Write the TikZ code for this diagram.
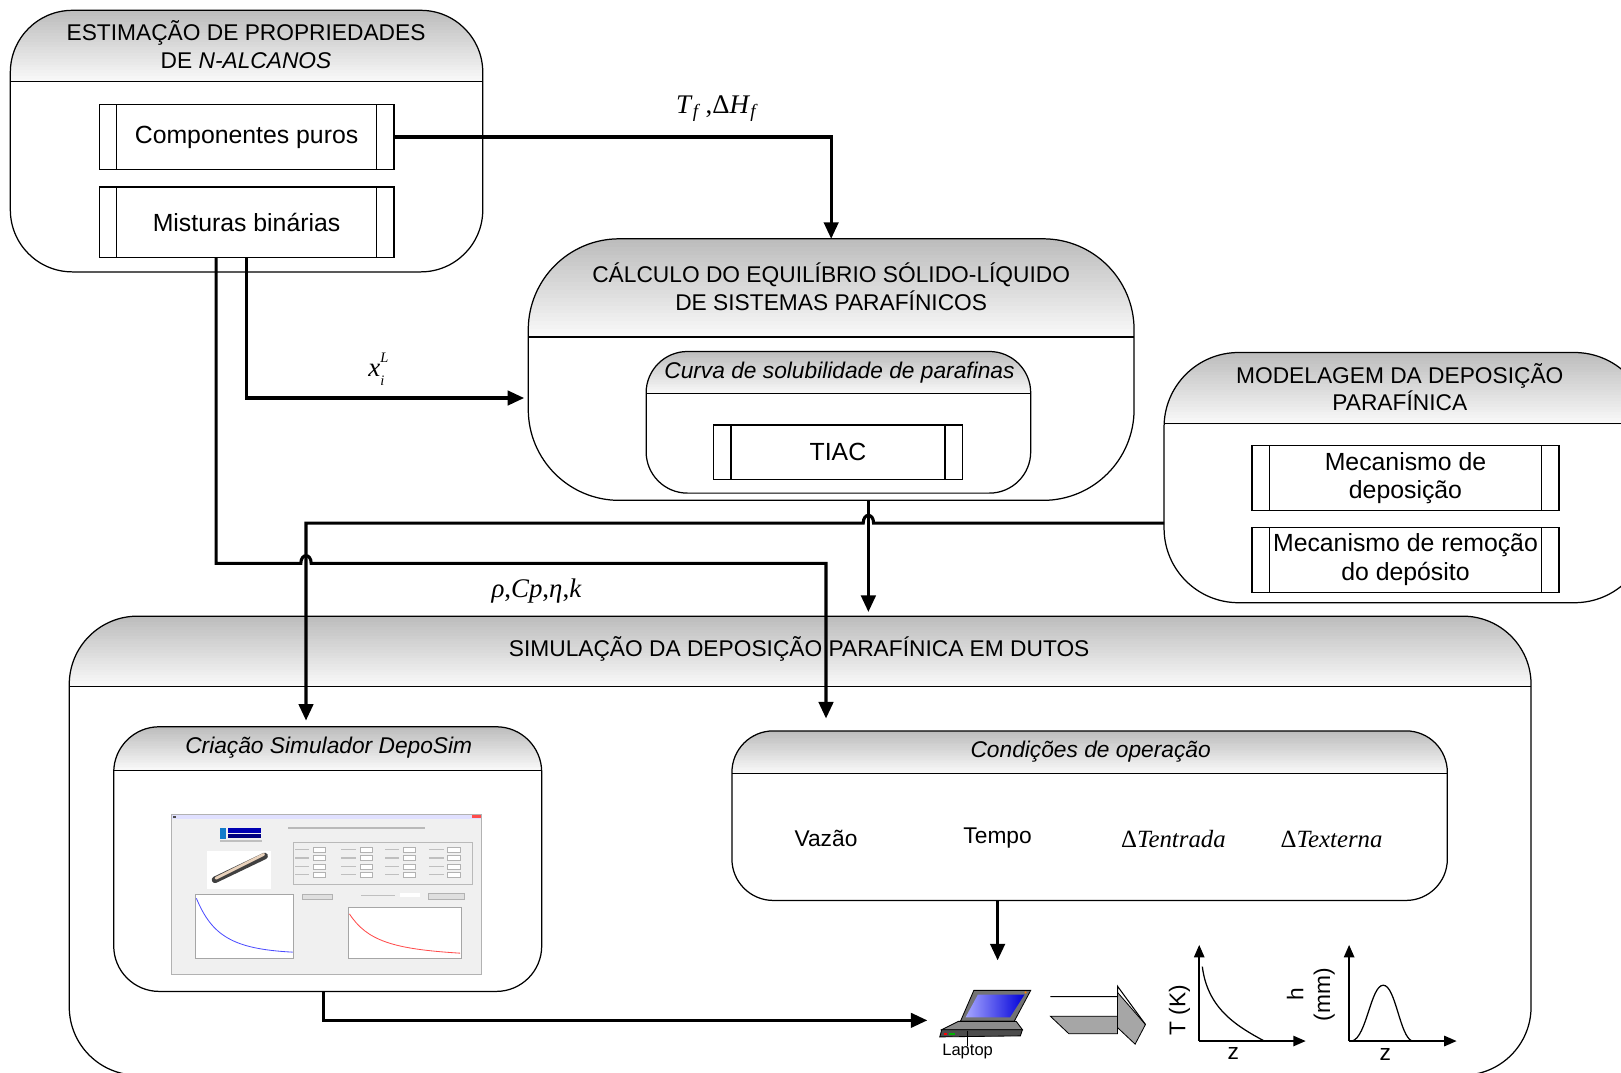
\documentclass[tikz,border=0pt]{standalone}
\usepackage{fontspec}
\setmainfont{Liberation Sans}
\newfontfamily\tms{Liberation Serif}
\usetikzlibrary{arrows.meta,calc}
\begin{document}
\begin{tikzpicture}[x=0.5pt,y=-0.5pt,
  every node/.style={inner sep=0pt, outer sep=0pt},
  hbox/.style={draw=black, line width=0.6pt, fill=white, rounded corners=#1, rectangle},
  hdr/.style={path picture={
      \foreach \k in {0,...,24}{
        \pgfmathsetmacro\pc{26-\k*0.97}
        \fill[sharp corners, draw=none, black!\pc] ([yshift=-\k*#1/25]path picture bounding box.north west) rectangle ([yshift=-(\k+1.25)*#1/25]path picture bounding box.north east);
      }
      \draw[sharp corners, line width=0.6pt] ([yshift=-#1]path picture bounding box.north west) -- ([yshift=-#1]path picture bounding box.north east);}},
  proc/.style={draw=black, line width=0.6pt, fill=white, rectangle, align=center,
      font=\fontsize{12}{14}\selectfont,
      path picture={
      \draw[line width=0.6pt] ([xshift=8.5pt]path picture bounding box.north west) -- ([xshift=8.5pt]path picture bounding box.south west);
      \draw[line width=0.6pt] ([xshift=-8.5pt]path picture bounding box.north east) -- ([xshift=-8.5pt]path picture bounding box.south east);}},
  ttl/.style={align=center, font=\fontsize{11}{13.5}\selectfont},
  txt/.style={font=\fontsize{11}{13}\selectfont},
  mth/.style={font=\fontsize{13}{15}\tms\selectfont},
  conn/.style={line width=1.5pt, -{Triangle[length=8pt,width=7pt]}},
  axis/.style={line width=0.8pt, -{Triangle[length=6pt,width=5pt]}},
]
\useasboundingbox (0,0) rectangle (1568,1037);
\fill[white] (0,0) rectangle (1568,1037);
\clip (0,0) rectangle (1568,1037);

% ---------- Box 1 ----------
\node[hbox=30pt, hdr=34.5pt, minimum width=228.5pt, minimum height=126.5pt] (est) at (238.5,136.5) {};
\node[ttl] (estT) at (238,43.5) {ESTIMAÇÃO DE PROPRIEDADES\\DE \textit{N-ALCANOS}};
\node[proc, minimum width=142.5pt, minimum height=31.5pt] (comp) at (238.5,132.5) {Componentes puros};
\node[proc, minimum width=142.5pt, minimum height=34pt] (mist) at (238.5,215) {Misturas binárias};

% ---------- Box 2 ----------
\node[hbox=44pt, hdr=47.5pt, minimum width=293pt, minimum height=126.5pt] (calc) at (804,357.5) {};
\node[ttl] (calcT) at (804,277.5) {CÁLCULO DO EQUILÍBRIO SÓLIDO-LÍQUIDO\\DE SISTEMAS PARAFÍNICOS};
\node[hbox=20pt, hdr=20.5pt, minimum width=186pt, minimum height=68.5pt] (curva) at (811,408.5) {};
\node[ttl, font=\fontsize{11}{13}\selectfont\itshape] (curvaT) at (812,360) {Curva de solubilidade de parafinas};
\node[proc, minimum width=120.5pt, minimum height=26.5pt] (tiac) at (810.5,437.5) {TIAC};

% ---------- Box 3 ----------
\node[hbox=36pt, hdr=34.5pt, minimum width=234.5pt, minimum height=121pt] (mod) at (1360.5,462) {};
\node[ttl] (modT) at (1354,374.5) {MODELAGEM DA DEPOSIÇÃO\\PARAFÍNICA};
\node[proc, minimum width=148.5pt, minimum height=31.5pt] (mdep) at (1359.5,462.5) {Mecanismo de\\deposição};
\node[proc, minimum width=148.5pt, minimum height=31.5pt] (mrem) at (1359.5,541.5) {Mecanismo de remoção\\do depósito};

% ---------- Box 4 ----------
\node[hbox=33pt, hdr=34pt, minimum width=707pt, minimum height=222pt] (sim) at (774,818) {};
\node[ttl] (simT) at (773,628) {SIMULAÇÃO DA DEPOSIÇÃO PARAFÍNICA EM DUTOS};
\node[hbox=22pt, hdr=21pt, minimum width=207pt, minimum height=128pt] (crea) at (317,831) {};
\node[ttl, font=\fontsize{11}{13}\selectfont\itshape] (creaT) at (318,723) {Criação Simulador DepoSim};
\node[hbox=20pt, hdr=20.5pt, minimum width=346pt, minimum height=82pt] (cond) at (1054,789) {};
\node[ttl, font=\fontsize{11}{13}\selectfont\itshape] (condT) at (1055,727) {Condições de operação};
\node[txt] (vaz) at (799,811) {Vazão};
\node[txt] (tem) at (965,811) {Tempo};
\node[font=\fontsize{12}{14}\tms\selectfont] (dte) at (1135,812) {Δ\textit{Tentrada}};
\node[font=\fontsize{12}{14}\tms\selectfont] (dtx) at (1288,812) {Δ\textit{Texterna}};

% ---------- screenshot (simplified) ----------
\filldraw[fill=gray!12, draw=gray!60, line width=0.3pt] (166,788) rectangle (466,942);
\fill[blue!12] (166.3,788.3) rectangle (465.7,792);
\fill[red!70] (457,788.5) rectangle (465,791.5);
\fill[black!70] (167,789) rectangle (170,791.5);
\fill[cyan!60!blue] (213,801) rectangle (219,812);
\fill[blue!70!black] (221,801) rectangle (252,806);
\fill[blue!50!black] (221,807) rectangle (252,811);
\fill[gray!50] (213,813) rectangle (253,814);
\fill[gray!55] (279,799.5) rectangle (411,801.5);
\fill[white] (200,823) rectangle (262,860);
\draw[line width=3.2pt, black!75, line cap=round] (208,851) -- (256,828);
\draw[line width=1.4pt, brown!35!white, line cap=round] (209,849.5) -- (255,826.5);
\draw[gray!55, line width=0.3pt] (284,815) rectangle (457,855);
\foreach \cx in {309,354,396,439}{
  \foreach \cy in {822,830,838,846}{
    \filldraw[fill=white, draw=gray!60, line width=0.2pt] (\cx-6,\cy-2.5) rectangle (\cx+6,\cy+2.5);
    \fill[gray!50] (\cx-24,\cy-0.6) rectangle (\cx-10,\cy+0.6);
  }}
\filldraw[fill=white, draw=gray!70, line width=0.3pt] (189,865) rectangle (284,927);
\draw[blue!70, line width=0.4pt] (190,869) .. controls (205,905) and (225,918) .. (283,921);
\filldraw[fill=white, draw=gray!70, line width=0.3pt] (337,878) rectangle (446,927);
\draw[red!70, line width=0.4pt] (338,884) .. controls (355,910) and (380,918) .. (445,922);
\filldraw[fill=gray!25, draw=gray!60, line width=0.3pt] (292,865) rectangle (321,869.5);
\filldraw[fill=gray!25, draw=gray!60, line width=0.3pt] (414,864) rectangle (449,870);
\fill[white] (387,863.5) rectangle (406,868);
\fill[gray!50] (349,865.5) rectangle (382,866.5);

% ---------- laptop ----------
\filldraw[fill=black!55, draw=black, line width=0.4pt] (942,958) -- (997,958) -- (981,988) -- (929,988) -- cycle;
\shade[left color=blue!35!white, right color=blue!85!black] (946,962) -- (991,962) -- (977,984) -- (934,984) -- cycle;
\fill[orange] (992,960) circle (1.2);
\filldraw[fill=black!45, draw=black, line width=0.4pt] (927,988) -- (983,988) -- (989,996) -- (911,996) -- cycle;
\filldraw[fill=black!70, draw=black, line width=0.4pt] (911,996) -- (989,996) -- (987,1002) -- (909,1003) -- cycle;
\fill[red] (913,999) rectangle (916,1001);
\fill[green!70!black] (918,999) rectangle (924,1001);
\draw[line width=0.4pt] (936,997) -- (936,1012);
\node[font=\fontsize{8}{9}\selectfont] (lapL) at (936,1017) {Laptop};

% ---------- 3D arrow ----------
\filldraw[fill=gray!70, draw=black, line width=0.4pt] (1016,983) -- (1081,983) -- (1081,1000) -- (1034,1000) -- cycle;
\filldraw[fill=gray!70, draw=black, line width=0.4pt] (1081,960) -- (1108,991) -- (1098,1010) -- (1081,994) -- cycle;
\draw[line width=0.5pt] (1016,964) -- (1081,964) -- (1081,954) -- (1108,991);

% ---------- graphs ----------
\coordinate (o1) at (1160,1007);
\draw[axis] (o1) -- (1160,914);
\draw[axis] (o1) -- (1263,1007);
\draw[line width=0.6pt] (1163,935) .. controls (1168,975) and (1195,992) .. (1223,1007);
\node[rotate=90, font=\fontsize{11}{13}\selectfont] (tk) at (1141,977) {T (K)};
\node[font=\fontsize{11}{13}\selectfont] (z1) at (1193,1019) {z};
\coordinate (o2) at (1305,1007);
\draw[axis] (o2) -- (1305,914);
\draw[axis] (o2) -- (1409,1007);
\draw[line width=0.6pt] (1308,1007) .. controls (1322,1003) and (1326,953) .. (1338,953) .. controls (1350,953) and (1354,1003) .. (1366,1007);
\node[rotate=90, align=center, font=\fontsize{11}{13}\selectfont] (hmm) at (1268,962) {h\\(mm)};
\node[font=\fontsize{11}{13}\selectfont] (z2) at (1340,1020) {z};

% ---------- connectors ----------
\draw[conn] (comp.east) -| (calc.north);
\node[mth] (lTf) at (694,105) {\textit{T}\textsubscript{\textit{f}}\,,Δ\textit{H}\textsubscript{\textit{f}}};

\draw[conn, shorten >=2pt] (mist.south) |- ($(calc.west)+(0,27.5)$);
\node[mth] (lx) at (366,357) {\textit{x}\raisebox{-0.7ex}{\makebox[0pt][l]{\scriptsize\textit{i}}}\raisebox{1.2ex}{\scriptsize\textit{L}}};

\coordinate (m3) at ($(mist.south)+(-29.5,0)$);
\coordinate (j3a) at (209,545);
\coordinate (c3) at ($(cond.north west)+(91,0)$);
\coordinate (j3b) at (c3 |- j3a);
\draw[conn, shorten >=6pt] (m3) -- (j3a) -- (291,545) .. controls (291,535) and (301,535) .. (301,545) -- (j3b) -- (c3);
\node[mth] (lrho) at (519,572) {\textit{ρ},\textit{Cp},\textit{η},\textit{k}};

\coordinate (m4) at ($(mod.west)+(0,44)$);
\coordinate (c4) at ($(crea.north)+(-21,0)$);
\coordinate (j4) at (c4 |- m4);
\draw[conn, shorten >=3pt] (m4) -- (845,506) .. controls (845,496) and (835,496) .. (835,506) -- (j4) -- (c4);

\coordinate (m5) at ($(calc.south)+(36,0)$);
\coordinate (c5) at (m5 |- sim.north);
\draw[conn, shorten >=2pt] (m5) -- (c5);

\coordinate (m6) at ($(cond.south)+(-89,0)$);
\coordinate (c6) at ($(m6)+(0,58)$);
\draw[conn] (m6) -- (c6);

\coordinate (m7) at ($(crea.south)+(-4,0)$);
\coordinate (c7) at (897,987);
\draw[conn] (m7) |- (c7);
\end{tikzpicture}
\end{document}
